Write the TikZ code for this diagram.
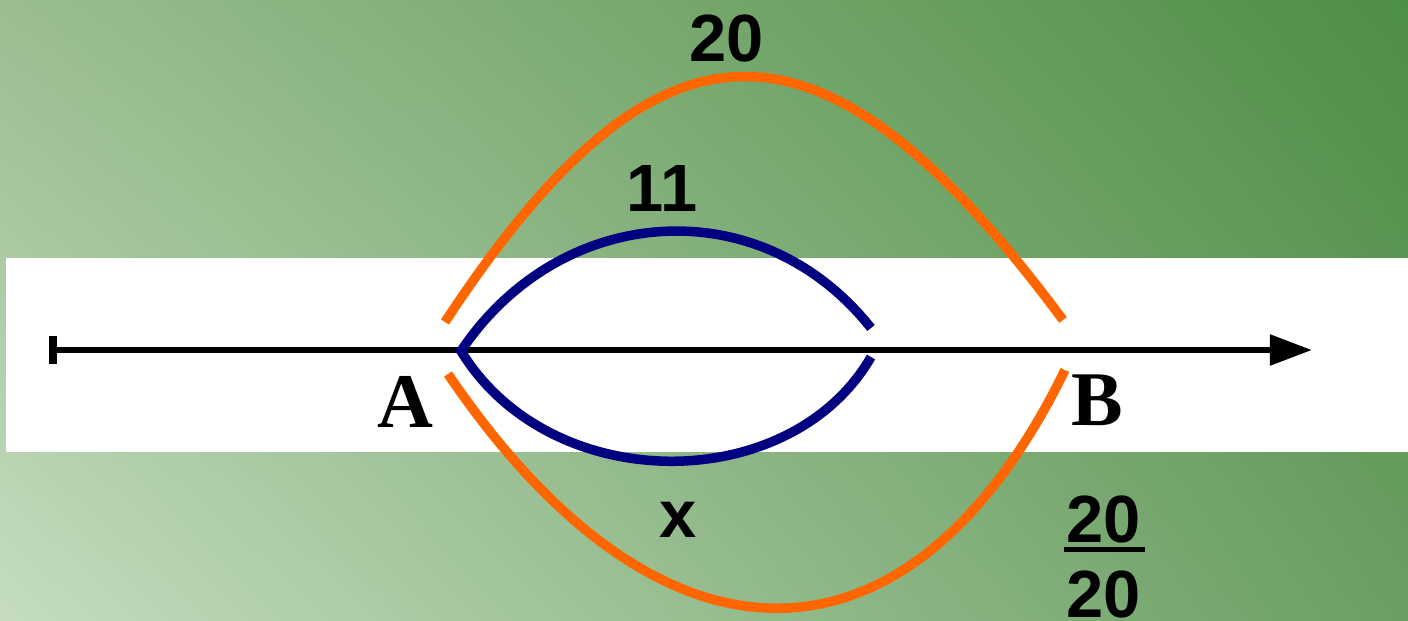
\documentclass[tikz,border=0pt]{standalone}
\usepackage{fontspec}
\setmainfont{Liberation Serif}
\newfontfamily\labfont{Liberation Sans}
\usetikzlibrary{arrows.meta,shadings}
\definecolor{bgUL}{HTML}{9BBD91}
\definecolor{bgUR}{HTML}{4D8F44}
\definecolor{bgLL}{HTML}{C5DCC0}
\definecolor{bgLR}{HTML}{6A9F62}
\definecolor{orangeline}{HTML}{FF6600}
\definecolor{navyline}{HTML}{000080}
\tikzset{
  orangecurve/.style={draw=orangeline, line width=2.7pt},
  navycurve/.style={draw=navyline, line width=2.7pt},
  axisline/.style={draw=black, line width=1.8pt},
  numlabel/.style={font=\labfont\bfseries\fontsize{19}{22}\selectfont, inner sep=0pt},
  ptlabel/.style={font=\bfseries\fontsize{22}{26}\selectfont, inner sep=0pt}
}
\begin{document}
\begin{tikzpicture}[x=0.01cm, y=-0.01cm]
\useasboundingbox (0,0) rectangle (1408,620);
\shade[upper left=bgUL, upper right=bgUR, lower left=bgLL, lower right=bgLR] (0,0) rectangle (1408,620);
\fill[white] (6,258) rectangle (1408,452);
% axis
\coordinate (ax0) at (53,350);
\coordinate (ax1) at (1312,350);
\coordinate (tk0) at (53,336);
\coordinate (tk1) at (53,364);
\draw[axisline, -{Triangle[length=12pt, width=8.5pt]}] (ax0) -- (ax1);
\draw[draw=black, line width=2.3pt] (tk0) -- (tk1);
% orange curves
\coordinate (oa1) at (445,322);
\coordinate (ob1) at (1063,320);
\coordinate (oa2) at (448,374);
\coordinate (ob2) at (1065,370);
\draw[orangecurve] (oa1) .. controls (660,-5) and (822,-5) .. (ob1);
\draw[orangecurve] (oa2) .. controls (660,687) and (910,687) .. (ob2);
% navy curves
\coordinate (na) at (461,351);
\coordinate (nb1) at (871,328);
\coordinate (nb2) at (871,357);
\draw[navycurve] (nb1) .. controls (760,188) and (560,203) .. (na)
  .. controls (550,497) and (790,497) .. (nb2);
% labels
\node[numlabel] (l20) at (727,38) {20};
\node[numlabel] (l11) at (662,188) {11};
\node[numlabel] (lx) at (678,520) {x};
\node[ptlabel] (lA) at (405,402) {A};
\node[ptlabel] (lB) at (1097,400) {B};
\node[numlabel] (f1) at (1104,519) {20};
\node[numlabel] (f2) at (1104,594) {20};
\draw[black, line width=1.5pt] ([xshift=-0.5pt, yshift=-1.8pt]f1.south west) -- ([xshift=0.8pt, yshift=-1.8pt]f1.south east);
\end{tikzpicture}
\end{document}
